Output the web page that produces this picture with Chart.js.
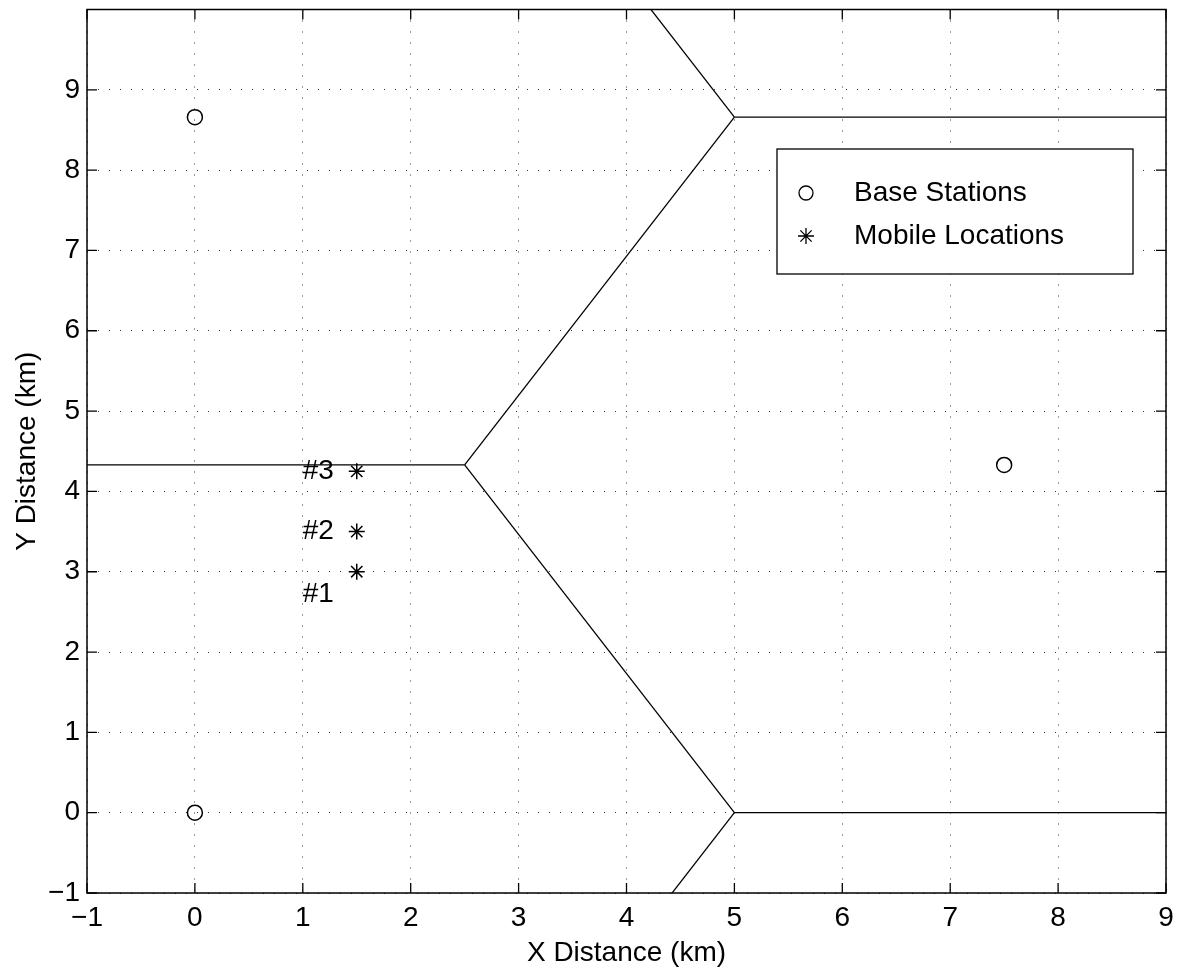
<!DOCTYPE html>
<html>
<head>
<meta charset="utf-8">
<script src="https://cdn.jsdelivr.net/npm/chart.js@4.4.0/dist/chart.umd.min.js"></script>
<style>
  body { margin: 0; background: #fff; }
  #wrap { width: 1184px; height: 974px; }
</style>
</head>
<body>
<div id="wrap"><canvas id="grafica" width="1184" height="974"></canvas></div>
<script>
// Estaciones base
var baseX = [0, 0, 7.5];
var baseY = [0, 8.66, 4.33];

// Posiciones del movil
var mobileX = [1.5, 1.5, 1.5];
var mobileY = [3, 3.5, 4.25];

// Etiquetas de texto
var labelText = ['#1', '#2', '#3'];
var labelX = [1.0, 1.0, 1.0];
var labelY = [2.72, 3.5, 4.25];

// Bordes de celdas hexagonales (segmentos)
var edgeX1 = [-1, 2.5, 2.5, 5, 5, 5, 5];
var edgeY1 = [4.33, 4.33, 4.33, 8.66, 0, 8.66, 0];
var edgeX2 = [2.5, 5, 5, 9, 9, 2.5, 2.5];
var edgeY2 = [4.33, 8.66, 0, 8.66, 0, 12.99, -4.33];

var xTicks = [-1, 0, 1, 2, 3, 4, 5, 6, 7, 8, 9];
var yTicks = [-1, 0, 1, 2, 3, 4, 5, 6, 7, 8, 9];

var legendNames = ['Base Stations', 'Mobile Locations'];

var FONT = "'Liberation Sans', Arial, Helvetica, sans-serif";
var FS = 28;

var datasets = [];
for (var i = 0; i < edgeX1.length; i++) {
    datasets.push({
        type: 'line',
        data: [{x: edgeX1[i], y: edgeY1[i]}, {x: edgeX2[i], y: edgeY2[i]}],
        borderColor: '#000',
        borderWidth: 1.3,
        pointRadius: 0,
        fill: false,
        tension: 0
    });
}
datasets.push({
    label: legendNames[0],
    data: baseX.map(function(x, k) { return {x: x, y: baseY[k]}; }),
    pointStyle: 'circle',
    pointRadius: 7.5,
    pointBorderColor: '#000',
    pointBackgroundColor: 'rgba(0,0,0,0)',
    pointBorderWidth: 1.5,
    showLine: false
});
datasets.push({
    label: legendNames[1],
    data: mobileX.map(function(x, k) { return {x: x, y: mobileY[k]}; }),
    pointStyle: 'star',
    pointRadius: 8,
    pointBorderColor: '#000',
    pointBorderWidth: 1.5,
    showLine: false
});

function dibujarEstrella(ctx, cx, cy, r) {
    var d = r * Math.SQRT1_2;
    ctx.beginPath();
    ctx.moveTo(cx - r, cy); ctx.lineTo(cx + r, cy);
    ctx.moveTo(cx, cy - r); ctx.lineTo(cx, cy + r);
    ctx.moveTo(cx - d, cy - d); ctx.lineTo(cx + d, cy + d);
    ctx.moveTo(cx - d, cy + d); ctx.lineTo(cx + d, cy - d);
    ctx.stroke();
}

// Marco, marcas interiores, textos y leyenda
var marcoPlugin = {
    id: 'marco',
    afterDatasetsDraw: function(chart) {
        var ctx = chart.ctx;
        var a = chart.chartArea;
        var sx = chart.scales.x, sy = chart.scales.y;
        ctx.save();

        // textos #1 #2 #3
        ctx.fillStyle = '#000';
        ctx.font = FS + 'px ' + FONT;
        ctx.textAlign = 'left';
        ctx.textBaseline = 'middle';
        for (var i = 0; i < labelText.length; i++) {
            ctx.fillText(labelText[i], sx.getPixelForValue(labelX[i]), sy.getPixelForValue(labelY[i]));
        }

        // marco
        ctx.strokeStyle = '#000';
        ctx.lineWidth = 1.5;
        ctx.strokeRect(a.left, a.top, a.right - a.left, a.bottom - a.top);

        // marcas hacia dentro
        var tl = 10;
        ctx.lineWidth = 1.3;
        ctx.beginPath();
        xTicks.forEach(function(v) {
            var px = sx.getPixelForValue(v);
            ctx.moveTo(px, a.bottom); ctx.lineTo(px, a.bottom - tl);
            ctx.moveTo(px, a.top); ctx.lineTo(px, a.top + tl);
        });
        yTicks.forEach(function(v) {
            var py = sy.getPixelForValue(v);
            ctx.moveTo(a.left, py); ctx.lineTo(a.left + tl, py);
            ctx.moveTo(a.right, py); ctx.lineTo(a.right - tl, py);
        });
        ctx.stroke();

        // leyenda
        var bx = 777, by = 149, bw = 356, bh = 125;
        ctx.fillStyle = '#fff';
        ctx.fillRect(bx, by, bw, bh);
        ctx.lineWidth = 1.3;
        ctx.strokeRect(bx, by, bw, bh);

        ctx.lineWidth = 1.3;
        ctx.beginPath();
        ctx.arc(bx + 29, by + 44, 7, 0, Math.PI * 2);
        ctx.stroke();
        dibujarEstrella(ctx, bx + 29, by + 87, 8);

        ctx.fillStyle = '#000';
        ctx.textAlign = 'left';
        ctx.textBaseline = 'middle';
        ctx.fillText(legendNames[0], bx + 77, by + 44);
        ctx.fillText(legendNames[1], bx + 77, by + 87);
        ctx.restore();
    }
};

var ctx = document.getElementById('grafica').getContext('2d');
var myChart = new Chart(ctx, {
    type: 'scatter',
    data: { datasets: datasets },
    options: {
        responsive: false,
        animation: false,
        devicePixelRatio: 1,
        layout: { padding: { left: 0, right: 18, top: 6, bottom: 0 } },
        plugins: {
            legend: { display: false },
            tooltip: { enabled: false }
        },
        scales: {
            x: {
                type: 'linear',
                min: -1,
                max: 9,
                afterBuildTicks: function(scale) {
                    scale.ticks = xTicks.map(function(v) { return {value: v}; });
                },
                afterFit: function(scale) {
                    scale.height = 81;
                    scale.paddingLeft = 0;
                    scale.paddingRight = 0;
                },
                ticks: {
                    color: '#000',
                    font: { family: FONT, size: FS },
                    padding: 8,
                    maxRotation: 0,
                    callback: function(v) { return v < 0 ? '\u2212' + Math.abs(v) : String(v); }
                },
                grid: { color: '#333', lineWidth: 1, drawTicks: false },
                border: { display: false, dash: [1, 10] },
                title: {
                    display: true,
                    text: 'X Distance (km)',
                    color: '#000',
                    font: { family: FONT, size: FS },
                    padding: { top: 0, bottom: 4 }
                }
            },
            y: {
                type: 'linear',
                min: -1,
                max: 10,
                afterBuildTicks: function(scale) {
                    scale.ticks = yTicks.map(function(v) { return {value: v}; });
                },
                afterFit: function(scale) {
                    scale.width = 87;
                    scale.paddingTop = 0;
                    scale.paddingBottom = 0;
                },
                ticks: {
                    color: '#000',
                    font: { family: FONT, size: FS },
                    padding: 7,
                    callback: function(v) { return v < 0 ? '\u2212' + Math.abs(v) : String(v); }
                },
                grid: { color: '#333', lineWidth: 1, drawTicks: false },
                border: { display: false, dash: [1, 10] },
                title: {
                    display: true,
                    text: 'Y Distance (km)',
                    color: '#000',
                    font: { family: FONT, size: FS },
                    padding: { top: 10, bottom: 0 }
                }
            }
        }
    },
    plugins: [marcoPlugin]
});
</script>
</body>
</html>
